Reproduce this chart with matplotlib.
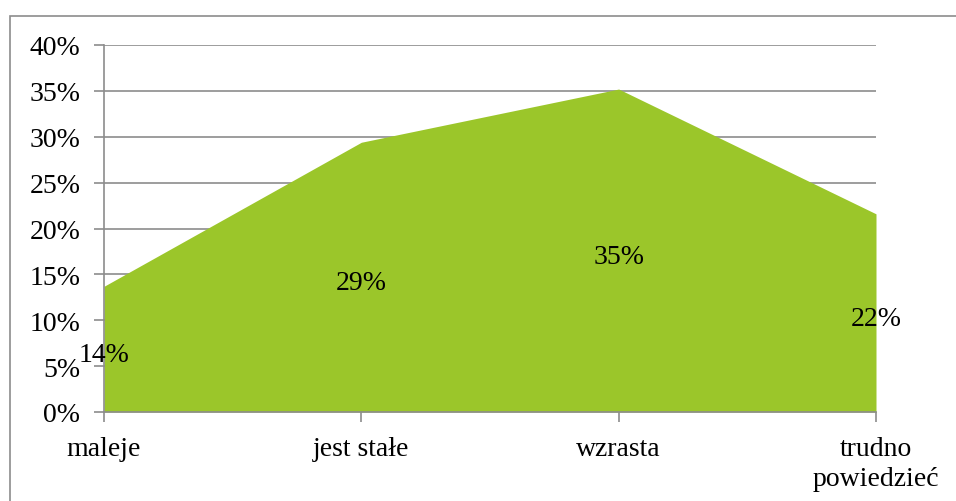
import matplotlib
matplotlib.use("Agg")
import matplotlib.pyplot as plt
from matplotlib.patches import Rectangle
from matplotlib.ticker import FuncFormatter, MultipleLocator

categories = ["maleje", "jest stałe", "wzrasta", "trudno\npowiedzieć"]
values = [13.7, 29.4, 35.2, 21.6]
labels = ["14%", "29%", "35%", "22%"]

W, H = 956, 502
fig = plt.figure(figsize=(W / 100, H / 100), dpi=100)
plt.rcParams['font.family'] = ['Liberation Serif', 'DejaVu Serif']
FS = 20

# outer chart border
fig.patches.append(Rectangle((10 / W, -0.1), 1.2, 1 - 17 / H + 0.1, transform=fig.transFigure,
                             fill=False, edgecolor='#8c8c8c', linewidth=1.2))

ax = fig.add_axes([104 / W, 1 - 413 / H, (876 - 104) / W, (413 - 46) / H])
x = list(range(len(categories)))
ax.fill_between(x, 0, values, color='#9BC62A', linewidth=0, zorder=2)
ax.set_xlim(0, len(categories) - 1)
ax.set_ylim(0, 40)
ax.yaxis.set_major_locator(MultipleLocator(5))
ax.yaxis.set_major_formatter(FuncFormatter(lambda v, p: f"{v:.0f}%"))
ax.grid(axis='y', color='#8c8c8c', linewidth=1.2, zorder=1)
ax.set_axisbelow(True)
for s in ['top', 'right']:
    ax.spines[s].set_visible(False)
for s in ['left', 'bottom']:
    ax.spines[s].set_color('#8c8c8c')
    ax.spines[s].set_linewidth(1.2)
    ax.spines[s].set_zorder(3)
ax.set_xticks(x)
ax.set_xticklabels(categories, fontsize=FS, linespacing=1.3)
ax.tick_params(axis='x', length=7, color='#8c8c8c', width=1.2, pad=10)
ax.tick_params(axis='y', length=7, color='#8c8c8c', width=1.2, pad=10, labelsize=FS)

for xi, v, lab in zip(x, values, labels):
    ax.text(xi, v / 2 - 0.6, lab, ha='center', va='center', fontsize=FS, zorder=4)

fig.savefig("out.png", dpi=100)
